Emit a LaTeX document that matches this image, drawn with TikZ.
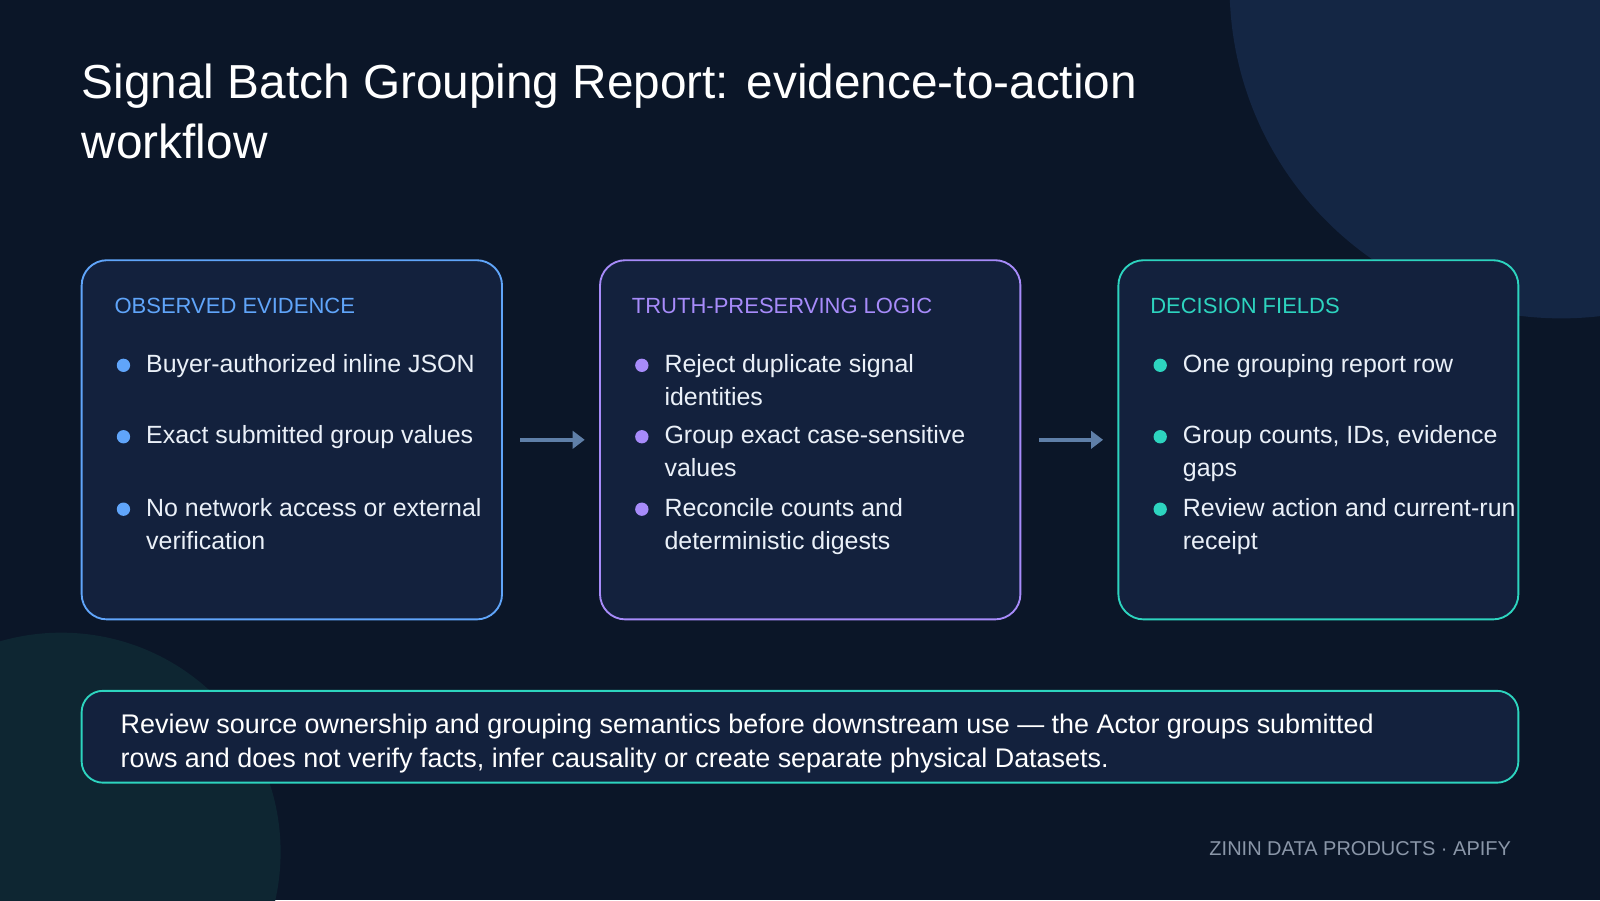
\documentclass[tikz,border=0pt]{standalone}
\usepackage{fontspec}
\setmainfont{Liberation Sans}
\usetikzlibrary{arrows.meta}
\definecolor{bg}{HTML}{0B1628}
\definecolor{boxfill}{HTML}{13213D}
\definecolor{cblue}{HTML}{60A5FA}
\definecolor{cpurple}{HTML}{A78BFA}
\definecolor{cgreen}{HTML}{2DD4BF}
\definecolor{ctext}{HTML}{EAF0F8}
\definecolor{carrow}{HTML}{5F7FA8}
\definecolor{cfoot}{HTML}{8A96A8}
\definecolor{circA}{HTML}{142644}
\definecolor{circB}{HTML}{0E2632}
\newcommand{\mlines}[1]{\begin{tabular}[t]{@{}l@{}}#1\end{tabular}}
\begin{document}
\begin{tikzpicture}[x=0.7653pt,y=-0.7653pt,
  card/.style={rounded corners=19pt,line width=1.4pt,fill=boxfill},
  hdr/.style={anchor=base west,font=\fontsize{16.5}{19}\selectfont,inner sep=0pt},
  txt/.style={anchor=base west,font=\fontsize{18.7}{24.5}\selectfont,text=ctext,inner sep=0pt},
  dot/.style={circle,inner sep=0pt,minimum size=10pt},
  arr/.style={draw=carrow,line width=3pt,-{Triangle[length=9pt,width=13pt]}}]
\fill[bg] (0,0) rectangle (1568,882);
\useasboundingbox (0,0) rectangle (1568,882);
\begin{scope}
\clip (0,0) rectangle (1568,882);
\fill[circA] (1530,-13) circle[radius=325];
\fill[circB] (60,835) circle[radius=215];
\end{scope}
\node[anchor=base west,inner sep=0pt,text=white,font=\fontsize{35.8}{45}\selectfont] (title) at (80,97) {\mlines{Signal Batch Grouping Report: evidence-to-action\\workflow}};
% cards
\draw[card,draw=cblue] (80,255) rectangle (492,607);
\draw[card,draw=cpurple] (588,255) rectangle (1000,607);
\draw[card,draw=cgreen] (1096,255) rectangle (1488,607);
\draw[arr] (510,431) -- (573,431);
\draw[arr] (1018,431) -- (1081,431);
% card 1
\node[hdr,text=cblue] (h1) at (112,307) {OBSERVED EVIDENCE};
\foreach \y/\t [count=\i] in {365/{Buyer-authorized inline JSON},435/{Exact submitted group values},506/{No network access or external\\verification}}{
  \node[dot,fill=cblue] (d1\i) at (121,\y-7) {};
  \node[txt] (t1\i) at (143,\y) {\mlines{\t}};
}
% card 2
\node[hdr,text=cpurple] (h2) at (619,307) {TRUTH-PRESERVING LOGIC};
\foreach \y/\t [count=\i] in {365/{Reject duplicate signal\\identities},435/{Group exact case-sensitive\\values},506/{Reconcile counts and\\deterministic digests}}{
  \node[dot,fill=cpurple] (d2\i) at (629,\y-7) {};
  \node[txt] (t2\i) at (651,\y) {\mlines{\t}};
}
% card 3
\node[hdr,text=cgreen] (h3) at (1127,307) {DECISION FIELDS};
\foreach \y/\t [count=\i] in {365/{One grouping report row},435/{Group counts, IDs, evidence\\gaps},506/{Review action and current-run\\receipt}}{
  \node[dot,fill=cgreen] (d3\i) at (1137,\y-7) {};
  \node[txt] (t3\i) at (1159,\y) {\mlines{\t}};
}
% banner
\draw[rounded corners=16pt,line width=1.4pt,draw=cgreen,fill=boxfill] (80,677) rectangle (1488,767);
\node[anchor=base west,inner sep=0pt,text=white,font=\fontsize{20.2}{25.5}\selectfont] (ban) at (118,719) {\mlines{Review source ownership and grouping semantics before downstream use — the Actor groups submitted\\rows and does not verify facts, infer causality or create separate physical Datasets.}};
\node[anchor=base east,inner sep=0pt,text=cfoot,font=\fontsize{15}{17}\selectfont] (foot) at (1481,838) {ZININ DATA PRODUCTS · APIFY};
\end{tikzpicture}
\end{document}
